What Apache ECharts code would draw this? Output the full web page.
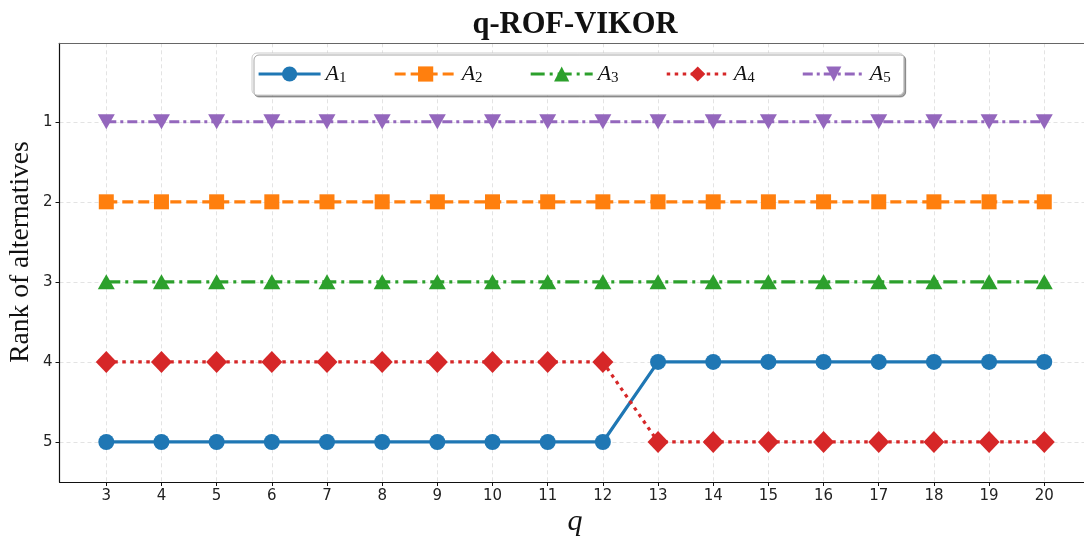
<!DOCTYPE html>
<html>
<head>
<meta charset="utf-8">
<script src="https://cdn.jsdelivr.net/npm/echarts@6/dist/echarts.min.js"></script>
<style>html,body{margin:0;padding:0;background:#fff;}#c{width:1084px;height:538px;}</style>
</head>
<body>
<div id="c"></div>
<script>
const qValues = [3,4,5,6,7,8,9,10,11,12,13,14,15,16,17,18,19,20];
const A1 = [5,5,5,5,5,5,5,5,5,5,4,4,4,4,4,4,4,4];
const A2 = [2,2,2,2,2,2,2,2,2,2,2,2,2,2,2,2,2,2];
const A3 = [3,3,3,3,3,3,3,3,3,3,3,3,3,3,3,3,3,3];
const A4 = [4,4,4,4,4,4,4,4,4,4,5,5,5,5,5,5,5,5];
const A5 = [1,1,1,1,1,1,1,1,1,1,1,1,1,1,1,1,1,1];
const seriesNames = ['A1','A2','A3','A4','A5'];
const rankTicks = [1,2,3,4,5];

const chart = echarts.init(document.getElementById('c'));
const pair = arr => qValues.map((q,i)=>[q,arr[i]]);
const serif = 'Liberation Serif';
const gridStyle = {show:true, lineStyle:{color:'#e3e3e3', width:1, type:[4,3]}};

function mk(name, data, color, symbol, size, dash, rotate) {
  return {
    name, type:'line', data: pair(data),
    symbol, symbolSize: size, symbolRotate: rotate || 0,
    itemStyle:{color, borderWidth:0},
    lineStyle:{color, width:3.2, type: dash},
    emphasis:{disabled:true}, animation:false, z:3
  };
}

const option = {
  animation:false,
  grid:{left:59.5, top:43.3, bottom:56, right:0, containLabel:false},
  xAxis:[{
    type:'value', min:2.152, max:20.72,
    axisLine:{show:true, onZero:false, lineStyle:{color:'#111', width:1.2}},
    axisTick:{show:true, length:4, customValues:qValues, lineStyle:{color:'#111'}},
    axisLabel:{customValues:qValues, color:'#222', fontSize:15, fontFamily:'DejaVu Sans', margin:7},
    splitLine:gridStyle
  },{
    type:'value', position:'top', min:2.152, max:20.72,
    axisLine:{show:true, lineStyle:{color:'#666', width:1.2}},
    axisTick:{show:false}, axisLabel:{show:false}, splitLine:{show:false}
  }],
  yAxis:{
    type:'value', inverse:true, min:0.02, max:5.5,
    axisLine:{show:true, onZero:false, lineStyle:{color:'#111', width:1.2}},
    axisTick:{show:true, length:4, customValues:rankTicks, lineStyle:{color:'#111'}},
    axisLabel:{customValues:rankTicks, color:'#222', fontSize:15, fontFamily:'DejaVu Sans', margin:7},
    splitLine:gridStyle
  },
  legend:{
    left:252, top:53,
    padding:[10,13,9,5],
    itemWidth:62, itemHeight:19, itemGap:46.5,
    backgroundColor:'#fff', borderColor:'#ccc', borderWidth:1, borderRadius:5,
    shadowColor:'rgba(0,0,0,0.35)', shadowBlur:0, shadowOffsetX:2, shadowOffsetY:2,
    lineStyle:{width:3.2},
    formatter: n => '{a|A}{s|' + n.slice(1) + '}',
    textStyle:{
      padding:[0,0,0,0],
      rich:{
        a:{fontFamily:serif, fontStyle:'italic', fontSize:22, color:'#111'},
        s:{fontFamily:serif, fontSize:15, color:'#111', padding:[9,0,0,0]}
      }
    },
    data: seriesNames
  },
  graphic:[
    {type:'text', x:575, y:10, style:{text:'q-ROF-VIKOR', font:'bold 30.5px "Liberation Serif"', fill:'#111', textAlign:'center'}},
    {type:'text', x:575, y:522, style:{text:'q', font:'italic 30px "Liberation Serif"', fill:'#111', textAlign:'center', textVerticalAlign:'middle'}},
    {type:'text', x:21, y:252, rotation:Math.PI/2, style:{text:'Rank of alternatives', font:'27.5px "Liberation Serif"', fill:'#111', textAlign:'center', textVerticalAlign:'middle'}}
  ],
  series:[
    mk('A1', A1, '#1f77b4', 'circle', 16, 'solid'),
    mk('A2', A2, '#ff7f0e', 'rect', 15, [11,5]),
    mk('A3', A3, '#2ca02c', 'triangle', [17,15], [14,5,3,5]),
    mk('A4', A4, '#d62728', 'diamond', [21,22], [3.5,4.5]),
    mk('A5', A5, '#9467bd', 'triangle', [17,15], [10,4,3,4], 180)
  ]
};
chart.setOption(option);
</script>
</body>
</html>
